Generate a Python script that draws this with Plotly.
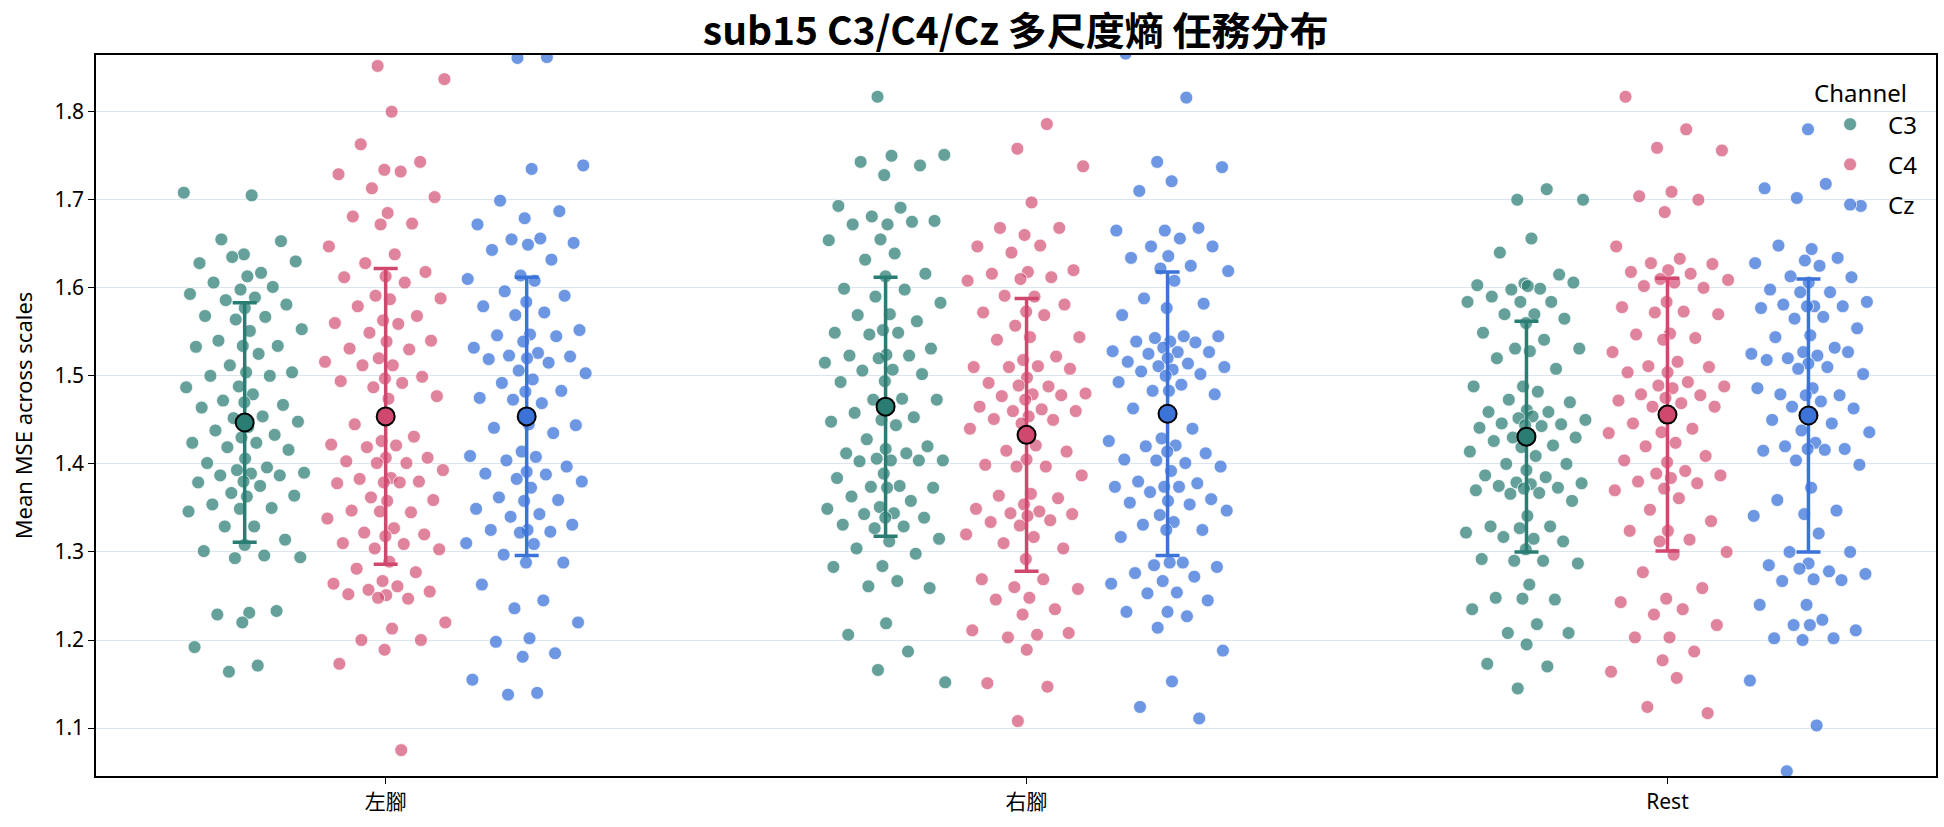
import plotly.graph_objects as go

tasks = ["左腳", "右腳", "Rest"]
channels = ["C3", "C4", "Cz"]

lf_c3 = [1.708,1.705,1.655,1.653,1.638,1.628,1.617,1.635,1.630,1.613,1.606,1.601,1.598,1.593,1.589,1.586,1.581,1.577,1.568,1.567,1.564,1.553,1.551,1.540,1.534,1.534,1.533,1.525,1.512,1.504,1.504,1.500,1.500,1.488,1.487,1.479,1.472,1.467,1.470,1.464,1.454,1.452,1.448,1.442,1.438,1.433,1.430,1.424,1.424,1.419,1.416,1.406,1.401,1.396,1.393,1.390,1.389,1.387,1.387,1.380,1.379,1.375,1.367,1.364,1.363,1.354,1.350,1.349,1.346,1.329,1.329,1.314,1.308,1.301,1.296,1.293,1.294,1.231,1.229,1.233,1.220,1.192,1.171,1.164]
lf_c4 = [1.852,1.837,1.800,1.763,1.743,1.734,1.729,1.732,1.713,1.703,1.685,1.681,1.673,1.672,1.647,1.638,1.628,1.618,1.613,1.612,1.606,1.591,1.588,1.587,1.579,1.568,1.563,1.560,1.559,1.549,1.540,1.539,1.531,1.530,1.520,1.516,1.512,1.512,1.499,1.497,1.494,1.492,1.487,1.477,1.474,1.445,1.431,1.426,1.422,1.421,1.419,1.407,1.407,1.403,1.401,1.401,1.393,1.384,1.383,1.380,1.379,1.378,1.379,1.362,1.359,1.358,1.347,1.345,1.346,1.338,1.327,1.322,1.320,1.318,1.310,1.309,1.304,1.303,1.289,1.281,1.277,1.267,1.264,1.261,1.257,1.255,1.251,1.252,1.247,1.248,1.220,1.213,1.200,1.200,1.189,1.173,1.075]
lf_cz = [1.862,1.861,1.739,1.735,1.699,1.687,1.679,1.672,1.656,1.655,1.651,1.649,1.643,1.632,1.614,1.610,1.608,1.596,1.591,1.584,1.579,1.572,1.569,1.552,1.547,1.546,1.545,1.539,1.532,1.526,1.523,1.522,1.520,1.519,1.515,1.506,1.503,1.496,1.492,1.483,1.482,1.475,1.469,1.473,1.444,1.445,1.441,1.435,1.414,1.409,1.408,1.404,1.397,1.391,1.389,1.388,1.383,1.380,1.373,1.362,1.359,1.358,1.349,1.343,1.340,1.331,1.325,1.325,1.323,1.322,1.310,1.309,1.297,1.288,1.288,1.263,1.245,1.236,1.220,1.202,1.198,1.185,1.181,1.155,1.140,1.138]
rf_c3 = [1.817,1.751,1.750,1.743,1.739,1.728,1.693,1.691,1.681,1.676,1.672,1.672,1.675,1.655,1.654,1.639,1.632,1.616,1.613,1.599,1.598,1.590,1.583,1.570,1.569,1.562,1.552,1.549,1.549,1.547,1.531,1.524,1.523,1.523,1.520,1.515,1.507,1.506,1.502,1.494,1.493,1.474,1.473,1.473,1.465,1.458,1.453,1.450,1.448,1.444,1.428,1.420,1.417,1.412,1.412,1.406,1.404,1.404,1.403,1.404,1.389,1.384,1.375,1.374,1.373,1.373,1.363,1.358,1.351,1.349,1.344,1.343,1.339,1.339,1.331,1.329,1.327,1.315,1.312,1.304,1.298,1.284,1.283,1.267,1.261,1.259,1.219,1.206,1.187,1.166,1.152]
rf_c4 = [1.786,1.758,1.738,1.697,1.668,1.668,1.660,1.647,1.648,1.640,1.620,1.618,1.616,1.612,1.610,1.608,1.590,1.591,1.581,1.573,1.572,1.569,1.557,1.544,1.544,1.541,1.522,1.518,1.510,1.511,1.510,1.508,1.498,1.492,1.488,1.489,1.480,1.479,1.477,1.478,1.473,1.465,1.462,1.460,1.460,1.454,1.451,1.450,1.446,1.440,1.421,1.415,1.414,1.405,1.399,1.397,1.397,1.387,1.366,1.364,1.361,1.354,1.349,1.346,1.344,1.343,1.341,1.334,1.336,1.330,1.320,1.317,1.310,1.304,1.292,1.269,1.269,1.260,1.258,1.248,1.246,1.235,1.229,1.211,1.206,1.203,1.208,1.189,1.151,1.147,1.108]
rf_cz = [1.866,1.816,1.743,1.737,1.721,1.710,1.668,1.665,1.665,1.656,1.647,1.647,1.636,1.634,1.625,1.622,1.619,1.608,1.588,1.582,1.577,1.569,1.545,1.543,1.545,1.539,1.539,1.538,1.532,1.528,1.527,1.525,1.527,1.520,1.516,1.514,1.511,1.510,1.507,1.505,1.502,1.500,1.493,1.490,1.483,1.479,1.483,1.463,1.440,1.429,1.426,1.421,1.420,1.412,1.414,1.405,1.401,1.404,1.397,1.392,1.380,1.378,1.374,1.374,1.374,1.368,1.360,1.358,1.356,1.354,1.342,1.347,1.334,1.331,1.325,1.325,1.317,1.288,1.285,1.283,1.288,1.276,1.272,1.267,1.264,1.254,1.253,1.245,1.232,1.232,1.227,1.214,1.188,1.153,1.124,1.111]
rest_c3 = [1.712,1.700,1.700,1.656,1.640,1.615,1.605,1.603,1.599,1.598,1.606,1.602,1.590,1.584,1.584,1.584,1.570,1.570,1.565,1.560,1.549,1.541,1.531,1.531,1.528,1.520,1.508,1.488,1.488,1.482,1.473,1.470,1.461,1.459,1.459,1.452,1.450,1.454,1.446,1.445,1.444,1.441,1.443,1.430,1.430,1.428,1.426,1.421,1.419,1.414,1.409,1.400,1.400,1.393,1.387,1.385,1.379,1.378,1.377,1.375,1.373,1.372,1.370,1.367,1.366,1.358,1.341,1.329,1.329,1.327,1.322,1.315,1.317,1.312,1.303,1.292,1.290,1.290,1.287,1.263,1.248,1.246,1.247,1.235,1.218,1.208,1.208,1.195,1.173,1.170,1.145]
rest_c4 = [1.817,1.780,1.759,1.756,1.709,1.704,1.700,1.686,1.647,1.633,1.628,1.627,1.620,1.618,1.616,1.610,1.609,1.606,1.602,1.600,1.584,1.578,1.573,1.572,1.570,1.548,1.547,1.543,1.541,1.527,1.516,1.511,1.510,1.504,1.504,1.493,1.489,1.488,1.486,1.479,1.478,1.475,1.472,1.469,1.465,1.465,1.453,1.446,1.440,1.436,1.435,1.424,1.420,1.409,1.402,1.404,1.392,1.389,1.387,1.384,1.380,1.378,1.372,1.370,1.361,1.348,1.335,1.324,1.324,1.314,1.312,1.300,1.297,1.277,1.259,1.247,1.243,1.235,1.229,1.217,1.203,1.203,1.187,1.177,1.164,1.157,1.124,1.117]
rest_cz = [1.780,1.713,1.718,1.702,1.693,1.644,1.648,1.634,1.631,1.628,1.625,1.613,1.612,1.606,1.598,1.595,1.595,1.584,1.579,1.581,1.579,1.579,1.577,1.567,1.565,1.554,1.546,1.544,1.532,1.527,1.525,1.523,1.520,1.527,1.514,1.518,1.510,1.508,1.502,1.486,1.479,1.478,1.478,1.486,1.471,1.465,1.463,1.454,1.450,1.446,1.438,1.436,1.424,1.420,1.417,1.417,1.415,1.416,1.404,1.399,1.373,1.359,1.347,1.343,1.341,1.321,1.300,1.300,1.287,1.285,1.278,1.281,1.275,1.269,1.267,1.268,1.240,1.240,1.223,1.217,1.211,1.217,1.202,1.202,1.200,1.154,1.103,1.051]

# mean and SD as shown in the chart (task x channel)
means = {"左腳": [1.447, 1.454, 1.454], "右腳": [1.465, 1.433, 1.457], "Rest": [1.431, 1.456, 1.455]}
sds = {"左腳": [0.136, 0.168, 0.158], "右腳": [0.147, 0.155, 0.161], "Rest": [0.131, 0.155, 0.155]}

values = {
    "左腳": [lf_c3, lf_c4, lf_cz],
    "右腳": [rf_c3, rf_c4, rf_cz],
    "Rest": [rest_c3, rest_c4, rest_cz],
}

point_colors = ["rgba(42,125,115,0.72)", "rgba(210,72,110,0.68)", "rgba(59,115,217,0.74)"]
solid_colors = ["#2A7D73", "#D1486E", "#3B73D9"]
dodge = [-0.22, 0.0, 0.22]
jit = 0.095

fig = go.Figure()

for ci, ch in enumerate(channels):
    xs, ys = [], []
    for ti, t in enumerate(tasks):
        vals = values[t][ci]
        for i, v in enumerate(vals):
            frac = (i * 0.6180339887 + 0.37 * (ti + ci)) % 1.0
            u = (frac - 0.5) * 2
            u = (abs(u) ** 1.5) * (1 if u >= 0 else -1)
            xs.append(ti + dodge[ci] + u * jit)
            ys.append(v)
    fig.add_trace(go.Scatter(
        x=xs, y=ys, mode="markers", name=ch, legendgroup=ch,
        marker=dict(size=13, color=point_colors[ci], line=dict(color="white", width=0.8)),
        hoverinfo="y",
    ))

for ci, ch in enumerate(channels):
    mx = [ti + dodge[ci] for ti in range(len(tasks))]
    my = [means[t][ci] for t in tasks]
    sy = [sds[t][ci] for t in tasks]
    fig.add_trace(go.Scatter(
        x=mx, y=my, mode="markers", showlegend=False, legendgroup=ch,
        marker=dict(size=18, color=solid_colors[ci], line=dict(color="black", width=2)),
        error_y=dict(type="data", array=sy, visible=True, color=solid_colors[ci], thickness=3.5, width=12),
    ))

font_family = "Noto Sans, Noto Sans CJK TC, sans-serif"

fig.update_layout(
    width=1944, height=827,
    margin=dict(l=96, r=6, t=55, b=51),
    paper_bgcolor="white", plot_bgcolor="white",
    font=dict(family=font_family, size=21, color="black"),
    title=dict(text="<b>sub15 C3/C4/Cz 多尺度熵 任務分布</b>", x=0.5225, xanchor="center",
               y=0.962, yanchor="middle",
               font=dict(size=39, family="Noto Sans CJK TC, Noto Sans, sans-serif", color="black")),
    showlegend=True,
    legend=dict(title=dict(text="Channel", side="top", font=dict(size=24)), x=0.993, y=0.978,
                xanchor="right", yanchor="top", bgcolor="rgba(0,0,0,0)", font=dict(size=24),
                itemsizing="trace", itemwidth=66, tracegroupgap=6),
    xaxis=dict(range=[-0.452, 2.419], tickmode="array", tickvals=[0, 1, 2], ticktext=tasks,
               showgrid=False, zeroline=False, showline=True, linecolor="black", linewidth=1.5, mirror=True,
               ticks="outside", ticklen=6, tickcolor="black", tickfont=dict(size=21)),
    yaxis=dict(range=[1.0456, 1.8644], tickmode="array", tickvals=[1.1, 1.2, 1.3, 1.4, 1.5, 1.6, 1.7, 1.8],
               ticktext=["1.1", "1.2", "1.3", "1.4", "1.5", "1.6", "1.7", "1.8"],
               showgrid=True, gridcolor="#DCE5EE", gridwidth=1, zeroline=False,
               showline=True, linecolor="black", linewidth=1.5, mirror=True,
               ticks="outside", ticklen=6, tickcolor="black", tickfont=dict(size=21),
               title=dict(text="Mean MSE across scales", font=dict(size=22), standoff=16)),
)

fig.write_html("out.html")
